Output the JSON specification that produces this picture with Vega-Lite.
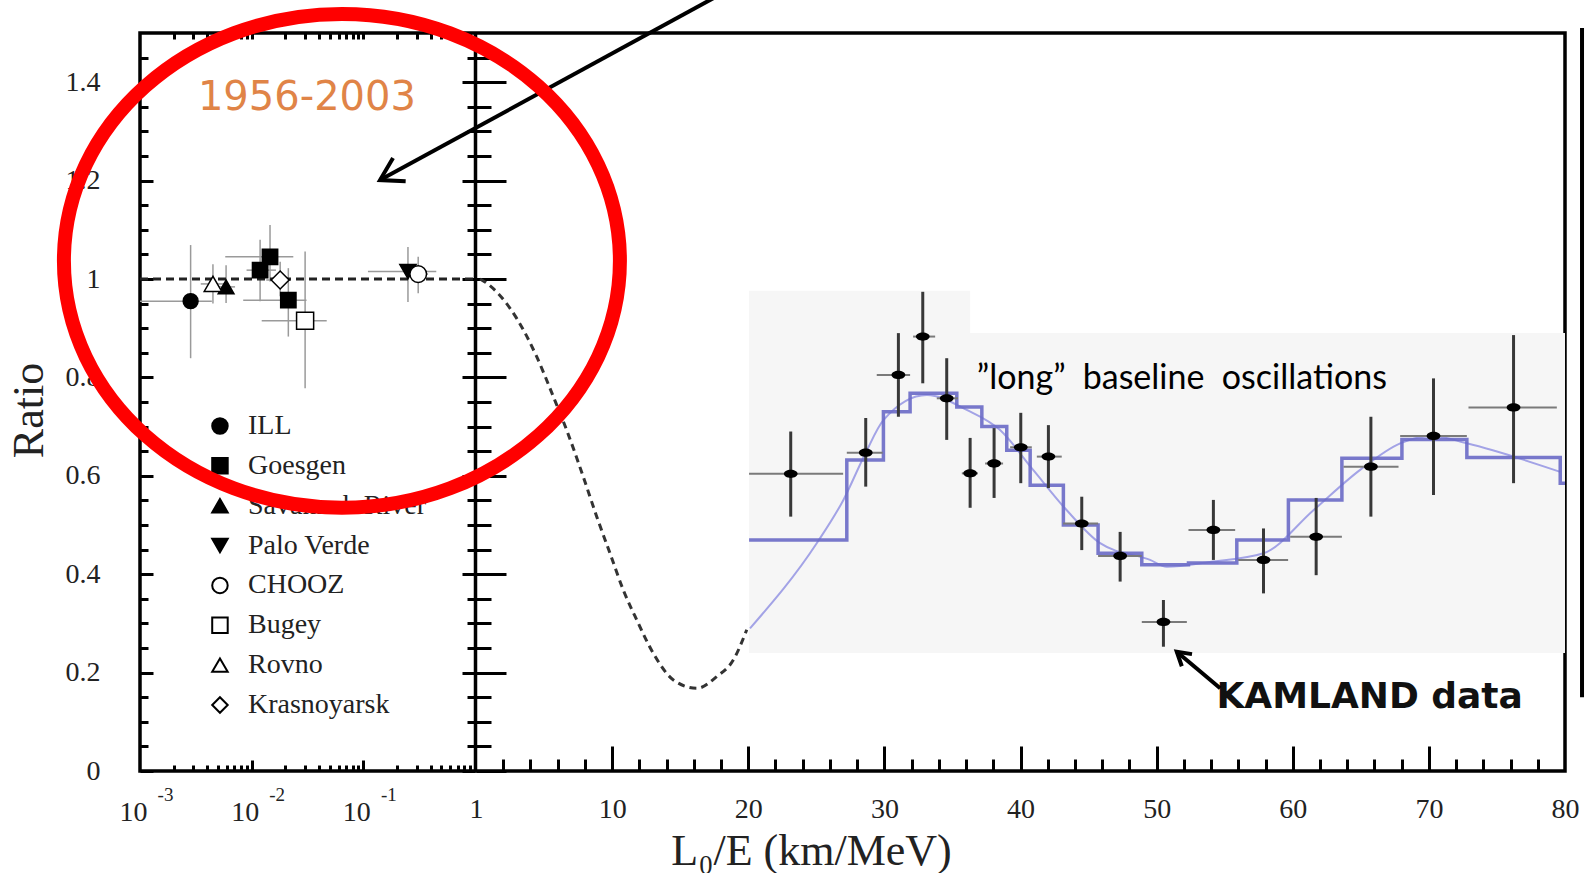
{
  "$schema": "https://vega.github.io/schema/vega-lite/v6.json",
  "width": 1425,
  "height": 738,
  "autosize": {"type": "none"},
  "padding": {"left": 140, "top": 33, "right": 20, "bottom": 102},
  "background": "white",
  "config": {
    "view": {"stroke": "black", "strokeWidth": 3.5},
    "axis": {
      "grid": false, "domain": false, "labelFlush": false, "labelOverlap": false, "labelBound": false,
      "tickColor": "black", "tickWidth": 3, "labelColor": "#222", "labelFont": "Liberation Serif", "labelFontSize": 28,
      "titleFont": "Liberation Serif", "titleFontWeight": "normal", "titleColor": "#222", "titleFontSize": 44
    }
  },
  "datasets": {
    "left": [
      {"exp": "ILL", "x": 0.00284, "y": 0.955, "xlo": 0.001, "xhi": 0.0044, "ylo": 0.839, "yhi": 1.069},
      {"exp": "Goesgen", "x": 0.0119, "y": 1.018, "xlo": 0.009, "xhi": 0.0165, "ylo": 0.955, "yhi": 1.08},
      {"exp": "Goesgen", "x": 0.0146, "y": 1.045, "xlo": 0.0058, "xhi": 0.0236, "ylo": 0.995, "yhi": 1.11},
      {"exp": "Goesgen", "x": 0.0213, "y": 0.957, "xlo": 0.0084, "xhi": 0.031, "ylo": 0.883, "yhi": 1.022},
      {"exp": "Savannah River", "x": 0.0059, "y": 0.984, "xlo": 0.0047, "xhi": 0.0071, "ylo": 0.951, "yhi": 1.028},
      {"exp": "Rovno", "x": 0.0045, "y": 0.99, "xlo": 0.0035, "xhi": 0.0058, "ylo": 0.95, "yhi": 1.03},
      {"exp": "Krasnoyarsk", "x": 0.018, "y": 0.998, "xlo": 0.0135, "xhi": 0.0225, "ylo": 0.965, "yhi": 1.035},
      {"exp": "Bugey", "x": 0.0301, "y": 0.915, "xlo": 0.0123, "xhi": 0.047, "ylo": 0.778, "yhi": 1.056},
      {"exp": "Palo Verde", "x": 0.251, "y": 1.015, "xlo": 0.11, "xhi": 0.45, "ylo": 0.953, "yhi": 1.065},
      {"exp": "CHOOZ", "x": 0.31, "y": 1.01, "xlo": 0.25, "xhi": 0.38, "ylo": 0.971, "yhi": 1.045}
    ],
    "legend": [
      {"exp": "ILL"}, {"exp": "Goesgen"}, {"exp": "Savannah River"}, {"exp": "Palo Verde"},
      {"exp": "CHOOZ"}, {"exp": "Bugey"}, {"exp": "Rovno"}, {"exp": "Krasnoyarsk"}
    ],
    "unity": [{"x": 0.001, "y": 1}, {"x": 1, "y": 1}],
    "era": [{"label": "1956-2003", "x": 0.0033, "y": 1.3435}],
    "bg": [
      {"x": 20.06, "x2": 80, "y": 0.24, "y2": 0.89},
      {"x": 20.06, "x2": 36.3, "y": 0.889, "y2": 0.976}
    ],
    "dashed": [
      {"x": 0.3, "y": 1.0}, {"x": 0.66, "y": 0.994}, {"x": 2.99, "y": 0.92}, {"x": 4.46, "y": 0.842},
      {"x": 5.68, "y": 0.761}, {"x": 6.66, "y": 0.693}, {"x": 7.88, "y": 0.598}, {"x": 8.87, "y": 0.517},
      {"x": 9.85, "y": 0.442}, {"x": 10.82, "y": 0.368}, {"x": 11.81, "y": 0.307}, {"x": 13.03, "y": 0.239},
      {"x": 14.5, "y": 0.185}, {"x": 16.22, "y": 0.168}, {"x": 17.69, "y": 0.192}, {"x": 18.91, "y": 0.226},
      {"x": 19.89, "y": 0.287}
    ],
    "fit": [
      {"x": 20.13, "y": 0.29}, {"x": 25.03, "y": 0.463}, {"x": 26.99, "y": 0.551}, {"x": 28.63, "y": 0.647},
      {"x": 29.93, "y": 0.713}, {"x": 33.12, "y": 0.764}, {"x": 36.05, "y": 0.734}, {"x": 38.5, "y": 0.693},
      {"x": 40.93, "y": 0.612}, {"x": 43.4, "y": 0.53}, {"x": 45.85, "y": 0.463}, {"x": 49.52, "y": 0.429},
      {"x": 50.75, "y": 0.415}, {"x": 53.93, "y": 0.425}, {"x": 57.85, "y": 0.4425}, {"x": 61.52, "y": 0.53},
      {"x": 64.95, "y": 0.612}, {"x": 67.89, "y": 0.666}, {"x": 70.31, "y": 0.681}, {"x": 72.79, "y": 0.666},
      {"x": 79.65, "y": 0.608}
    ],
    "steps": [
      {"x": 20.06, "y": 0.4695}, {"x": 27.24, "y": 0.632}, {"x": 29.93, "y": 0.73}, {"x": 31.89, "y": 0.768},
      {"x": 35.32, "y": 0.74}, {"x": 37.16, "y": 0.7}, {"x": 38.99, "y": 0.652}, {"x": 40.71, "y": 0.581},
      {"x": 43.15, "y": 0.5}, {"x": 45.7, "y": 0.4425}, {"x": 48.91, "y": 0.419}, {"x": 52.34, "y": 0.423},
      {"x": 55.89, "y": 0.4695}, {"x": 59.68, "y": 0.551}, {"x": 63.61, "y": 0.6355}, {"x": 68.02, "y": 0.674},
      {"x": 72.79, "y": 0.637}, {"x": 79.65, "y": 0.585}, {"x": 80, "y": 0.585}
    ],
    "kam": [
      {"x": 23.12, "y": 0.604, "xlo": 20.06, "xhi": 26.97, "ylo": 0.517, "yhi": 0.69},
      {"x": 28.63, "y": 0.647, "xlo": 27.24, "xhi": 29.88, "ylo": 0.578, "yhi": 0.7175},
      {"x": 31.03, "y": 0.805, "xlo": 29.44, "xhi": 31.89, "ylo": 0.72, "yhi": 0.89},
      {"x": 32.82, "y": 0.883, "xlo": 32.11, "xhi": 33.73, "ylo": 0.788, "yhi": 0.974},
      {"x": 34.58, "y": 0.7575, "xlo": 33.85, "xhi": 35.41, "ylo": 0.673, "yhi": 0.839},
      {"x": 36.3, "y": 0.605, "xlo": 35.69, "xhi": 36.88, "ylo": 0.535, "yhi": 0.677},
      {"x": 38.06, "y": 0.625, "xlo": 37.4, "xhi": 38.72, "ylo": 0.555, "yhi": 0.697},
      {"x": 40.02, "y": 0.658, "xlo": 39.24, "xhi": 40.83, "ylo": 0.585, "yhi": 0.728},
      {"x": 42.05, "y": 0.639, "xlo": 41.2, "xhi": 43.03, "ylo": 0.575, "yhi": 0.703},
      {"x": 44.5, "y": 0.503, "xlo": 43.13, "xhi": 45.7, "ylo": 0.449, "yhi": 0.5575},
      {"x": 47.32, "y": 0.437, "xlo": 45.7, "xhi": 48.91, "ylo": 0.385, "yhi": 0.486},
      {"x": 50.5, "y": 0.303, "xlo": 48.91, "xhi": 52.22, "ylo": 0.2526, "yhi": 0.3476},
      {"x": 54.17, "y": 0.49, "xlo": 52.34, "xhi": 55.77, "ylo": 0.429, "yhi": 0.551},
      {"x": 57.85, "y": 0.429, "xlo": 55.99, "xhi": 59.66, "ylo": 0.361, "yhi": 0.493},
      {"x": 61.72, "y": 0.476, "xlo": 59.81, "xhi": 63.61, "ylo": 0.398, "yhi": 0.555},
      {"x": 65.74, "y": 0.6185, "xlo": 63.73, "xhi": 67.77, "ylo": 0.517, "yhi": 0.72},
      {"x": 70.34, "y": 0.681, "xlo": 67.89, "xhi": 72.79, "ylo": 0.561, "yhi": 0.798},
      {"x": 76.22, "y": 0.739, "xlo": 72.91, "xhi": 79.4, "ylo": 0.585, "yhi": 0.886}
    ],
    "note": [{"label": "”long” \u00a0baseline \u00a0oscillations", "x": 36.79, "y": 0.7764}],
    "kamlabel": [{"label": "KAMLAND data", "x": 54.39, "y": 0.128}],
    "arrows": [
      {"x": 17.85, "y": 1.577, "x2": -7.05, "y2": 1.201},
      {"x": 54.67, "y": 0.168, "x2": 51.48, "y2": 0.2425}
    ],
    "tipBig": [{"x": -7.05, "y": 1.201}],
    "tipSmall": [{"x": 51.48, "y": 0.2425}],
    "ring": [{"x": -9.85, "y": 1.037}],
    "edge": [{"x": 81.25, "y": 0.15, "y2": 1.51}]
  },
  "layer": [
    {
      "layer": [
        {
          "data": {"name": "left"},
          "mark": {"type": "rule", "color": "#9a9a9a", "strokeWidth": 1.5},
          "encoding": {
            "x": {"field": "xlo", "type": "quantitative", "scale": {"type": "log", "domain": [0.001, 1], "range": [0, 335]},
              "axis": {"orient": "bottom", "values": [0.001, 0.01, 0.1], "labelExpr": "'10'", "ticks": false, "labels": true, "labelPadding": 27, "labelOffset": -7, "title": null}},
            "x2": {"field": "xhi"},
            "y": {"field": "y", "type": "quantitative", "scale": {"domain": [0, 1.5], "nice": false, "zero": false},
              "axis": {"orient": "left", "values": [0, 0.2, 0.4, 0.6, 0.8, 1, 1.2, 1.4], "format": "~g", "ticks": false, "labels": true, "labelPadding": 40,
                "title": "Ratio", "titleX": -98, "titleY": 377, "titleAngle": -90, "titleAlign": "center", "titleBaseline": "alphabetic"}}
          }
        },
        {
          "data": {"name": "left"},
          "mark": {"type": "rule", "color": "#9a9a9a", "strokeWidth": 1.5},
          "encoding": {
            "x": {"field": "x", "type": "quantitative", "scale": {"type": "log", "domain": [0.001, 1], "range": [0, 335]},
              "axis": {"orient": "bottom", "values": [0.001, 0.01, 0.1], "labelExpr": "datum.value < 0.005 ? '-3' : (datum.value < 0.05 ? '-2' : '-1')", "ticks": false, "labels": true, "labelFontSize": 19, "labelPadding": 14, "labelOffset": 25, "title": null}},
            "y": {"field": "ylo", "type": "quantitative", "scale": {"domain": [0, 1.5], "nice": false, "zero": false},
              "axis": {"orient": "left", "values": [0, 0.2, 0.4, 0.6, 0.8, 1, 1.2, 1.4], "labels": false, "tickSize": -13, "title": null}},
            "y2": {"field": "yhi"}
          }
        },
        {
          "data": {"name": "unity"},
          "mark": {"type": "line", "color": "#222", "strokeWidth": 2.8, "strokeDash": [8, 5]},
          "encoding": {
            "x": {"field": "x", "type": "quantitative", "scale": {"type": "log", "domain": [0.001, 1], "range": [0, 335]},
              "axis": {"orient": "bottom", "values": [0.01, 0.1], "labels": false, "tickSize": -11, "title": null}},
            "y": {"field": "y", "type": "quantitative", "scale": {"domain": [0, 1.5], "nice": false, "zero": false},
              "axis": {"orient": "left", "values": [0.05, 0.1, 0.15, 0.25, 0.3, 0.35, 0.45, 0.5, 0.55, 0.65, 0.7, 0.75, 0.85, 0.9, 0.95, 1.05, 1.1, 1.15, 1.25, 1.3, 1.35, 1.45], "labels": false, "tickSize": -8, "title": null}}
          }
        },
        {
          "data": {"name": "left"},
          "mark": {"type": "point", "stroke": "black", "strokeWidth": 1.5, "opacity": 1},
          "encoding": {
            "x": {"field": "x", "type": "quantitative", "scale": {"type": "log", "domain": [0.001, 1], "range": [0, 335]},
              "axis": {"orient": "bottom", "values": [0.002, 0.003, 0.004, 0.005, 0.006, 0.007, 0.008, 0.009, 0.02, 0.03, 0.04, 0.05, 0.06, 0.07, 0.08, 0.09, 0.2, 0.3, 0.4, 0.5, 0.6, 0.7, 0.8, 0.9], "labels": false, "tickSize": -6, "title": null}},
            "y": {"field": "y", "type": "quantitative", "scale": {"domain": [0, 1.5], "nice": false, "zero": false},
              "axis": {"orient": "left", "offset": -335, "values": [0, 0.2, 0.4, 0.6, 0.8, 1, 1.2, 1.4], "labels": false, "tickSize": 13, "domain": true, "domainColor": "black", "domainWidth": 3.5, "title": null}},
            "shape": {"field": "exp", "type": "nominal",
              "scale": {"domain": ["ILL", "Goesgen", "Savannah River", "Palo Verde", "CHOOZ", "Bugey", "Rovno", "Krasnoyarsk"],
                "range": ["circle", "square", "triangle-up", "triangle-down", "circle", "square", "triangle-up", "diamond"]},
              "legend": null},
            "fill": {"field": "exp", "type": "nominal",
              "scale": {"domain": ["ILL", "Goesgen", "Savannah River", "Palo Verde", "CHOOZ", "Bugey", "Rovno", "Krasnoyarsk"],
                "range": ["black", "black", "black", "black", "white", "white", "white", "white"]},
              "legend": null},
            "size": {"field": "exp", "type": "ordinal",
              "scale": {"domain": ["ILL", "Goesgen", "Savannah River", "Palo Verde", "CHOOZ", "Bugey", "Rovno", "Krasnoyarsk"],
                "range": [220, 320, 190, 160, 120, 150, 150, 80]},
              "legend": null}
          }
        },
        {
          "data": {"name": "era"},
          "mark": {"type": "text", "font": "DejaVu Sans", "fontSize": 40, "color": "#E08447", "align": "left", "baseline": "alphabetic"},
          "encoding": {
            "x": {"field": "x", "type": "quantitative", "scale": {"type": "log", "domain": [0.001, 1], "range": [0, 335]},
              "axis": {"orient": "top", "values": [0.002, 0.003, 0.004, 0.005, 0.006, 0.007, 0.008, 0.009, 0.01, 0.02, 0.03, 0.04, 0.05, 0.06, 0.07, 0.08, 0.09, 0.1, 0.2, 0.3, 0.4, 0.5, 0.6, 0.7, 0.8, 0.9], "labels": false, "tickSize": -6, "title": null}},
            "y": {"field": "y", "type": "quantitative", "scale": {"domain": [0, 1.5], "nice": false, "zero": false},
              "axis": {"orient": "left", "offset": -335, "values": [0.05, 0.1, 0.15, 0.25, 0.3, 0.35, 0.45, 0.5, 0.55, 0.65, 0.7, 0.75, 0.85, 0.9, 0.95, 1.05, 1.1, 1.15, 1.25, 1.3, 1.35, 1.45], "labels": false, "tickSize": 8, "title": null}},
            "text": {"field": "label"}
          }
        }
      ],
      "resolve": {"axis": {"x": "independent", "y": "independent"}}
    },
    {
      "layer": [
        {
          "data": {"name": "legend"},
          "mark": {"type": "point", "stroke": "black", "strokeWidth": 2, "size": 240, "opacity": 1},
          "encoding": {
            "x": {"datum": 0.0052, "type": "quantitative", "scale": {"type": "log", "domain": [0.001, 1], "range": [0, 335]}, "axis": null},
            "y": {"field": "exp", "type": "ordinal", "sort": null,
              "scale": {"type": "point", "domain": ["ILL", "Goesgen", "Savannah River", "Palo Verde", "CHOOZ", "Bugey", "Rovno", "Krasnoyarsk"], "range": [393, 672], "padding": 0},
              "axis": null},
            "shape": {"field": "exp", "type": "nominal",
              "scale": {"domain": ["ILL", "Goesgen", "Savannah River", "Palo Verde", "CHOOZ", "Bugey", "Rovno", "Krasnoyarsk"],
                "range": ["circle", "square", "triangle-up", "triangle-down", "circle", "square", "triangle-up", "diamond"]},
              "legend": null},
            "fill": {"field": "exp", "type": "nominal",
              "scale": {"domain": ["ILL", "Goesgen", "Savannah River", "Palo Verde", "CHOOZ", "Bugey", "Rovno", "Krasnoyarsk"],
                "range": ["black", "black", "black", "black", "white", "white", "white", "white"]},
              "legend": null}
          }
        },
        {
          "data": {"name": "legend"},
          "mark": {"type": "text", "font": "Liberation Serif", "fontSize": 28, "color": "#222", "align": "left", "baseline": "middle"},
          "encoding": {
            "x": {"datum": 0.00927, "type": "quantitative", "scale": {"type": "log", "domain": [0.001, 1], "range": [0, 335]}, "axis": null},
            "y": {"field": "exp", "type": "ordinal", "sort": null,
              "scale": {"type": "point", "domain": ["ILL", "Goesgen", "Savannah River", "Palo Verde", "CHOOZ", "Bugey", "Rovno", "Krasnoyarsk"], "range": [393, 672], "padding": 0},
              "axis": null},
            "text": {"field": "exp"}
          }
        }
      ]
    },
    {
      "layer": [
        {
          "data": {"name": "bg"},
          "mark": {"type": "rect", "color": "#f6f6f6"},
          "encoding": {
            "x": {"field": "x", "type": "quantitative", "scale": {"domain": [0, 80], "range": [336, 1425]},
              "axis": {"orient": "bottom", "values": [0, 10, 20, 30, 40, 50, 60, 70, 80], "labelExpr": "datum.value == 0 ? '1' : datum.label", "ticks": false, "labels": true, "labelPadding": 24,
                "title": "L₀/E (km/MeV)", "titleX": 671, "titleY": 93, "titleAlign": "center", "titleBaseline": "alphabetic"}},
            "x2": {"field": "x2"},
            "y": {"field": "y", "type": "quantitative", "scale": {"domain": [0, 1.5], "nice": false, "zero": false},
              "axis": {"orient": "left", "offset": -336, "values": [0, 0.2, 0.4, 0.6, 0.8, 1, 1.2, 1.4], "labels": false, "tickSize": -30, "title": null}},
            "y2": {"field": "y2"}
          }
        },
        {
          "data": {"name": "dashed"},
          "mark": {"type": "line", "color": "#333", "strokeWidth": 3, "strokeDash": [7, 5], "interpolate": "monotone"},
          "encoding": {
            "x": {"field": "x", "type": "quantitative", "scale": {"domain": [0, 80], "range": [336, 1425]},
              "axis": {"orient": "bottom", "values": [10, 20, 30, 40, 50, 60, 70], "labels": false, "tickSize": -25, "title": null}},
            "y": {"field": "y", "type": "quantitative", "scale": {"domain": [0, 1.5], "nice": false, "zero": false},
              "axis": {"orient": "left", "offset": -336, "values": [0.05, 0.1, 0.15, 0.25, 0.3, 0.35, 0.45, 0.5, 0.55, 0.65, 0.7, 0.75, 0.85, 0.9, 0.95, 1.05, 1.1, 1.15, 1.25, 1.3, 1.35, 1.45], "labels": false, "tickSize": -15, "title": null}}
          }
        },
        {
          "data": {"name": "fit"},
          "mark": {"type": "line", "color": "#a3a3e6", "strokeWidth": 2, "interpolate": "monotone"},
          "encoding": {
            "x": {"field": "x", "type": "quantitative", "scale": {"domain": [0, 80], "range": [336, 1425]},
              "axis": {"orient": "bottom", "values": [2, 4, 6, 8, 12, 14, 16, 18, 22, 24, 26, 28, 32, 34, 36, 38, 42, 44, 46, 48, 52, 54, 56, 58, 62, 64, 66, 68, 72, 74, 76, 78], "labels": false, "tickSize": -12, "title": null}},
            "y": {"field": "y", "type": "quantitative", "scale": {"domain": [0, 1.5], "nice": false, "zero": false}, "axis": null}
          }
        },
        {
          "data": {"name": "steps"},
          "mark": {"type": "line", "color": "#6a6ac6", "strokeWidth": 3.5, "opacity": 0.9, "interpolate": "step-after"},
          "encoding": {
            "x": {"field": "x", "type": "quantitative", "scale": {"domain": [0, 80], "range": [336, 1425]}, "axis": null},
            "y": {"field": "y", "type": "quantitative", "scale": {"domain": [0, 1.5], "nice": false, "zero": false}, "axis": null}
          }
        },
        {
          "data": {"name": "kam"},
          "mark": {"type": "rule", "color": "#7a7a7a", "strokeWidth": 2},
          "encoding": {
            "x": {"field": "xlo", "type": "quantitative", "scale": {"domain": [0, 80], "range": [336, 1425]}, "axis": null},
            "x2": {"field": "xhi"},
            "y": {"field": "y", "type": "quantitative", "scale": {"domain": [0, 1.5], "nice": false, "zero": false}, "axis": null}
          }
        },
        {
          "data": {"name": "kam"},
          "mark": {"type": "rule", "color": "#383838", "strokeWidth": 3},
          "encoding": {
            "x": {"field": "x", "type": "quantitative", "scale": {"domain": [0, 80], "range": [336, 1425]}, "axis": null},
            "y": {"field": "ylo", "type": "quantitative", "scale": {"domain": [0, 1.5], "nice": false, "zero": false}, "axis": null},
            "y2": {"field": "yhi"}
          }
        },
        {
          "data": {"name": "kam"},
          "mark": {"type": "point", "shape": "M -1 0 C -1 -0.33 -0.55 -0.6 0 -0.6 C 0.55 -0.6 1 -0.33 1 0 C 1 0.33 0.55 0.6 0 0.6 C -0.55 0.6 -1 0.33 -1 0 Z", "size": 190, "filled": true, "fill": "black", "strokeWidth": 0, "opacity": 1},
          "encoding": {
            "x": {"field": "x", "type": "quantitative", "scale": {"domain": [0, 80], "range": [336, 1425]}, "axis": null},
            "y": {"field": "y", "type": "quantitative", "scale": {"domain": [0, 1.5], "nice": false, "zero": false}, "axis": null}
          }
        },
        {
          "data": {"name": "note"},
          "mark": {"type": "text", "font": "Lato", "fontSize": 34, "color": "black", "align": "left", "baseline": "alphabetic"},
          "encoding": {
            "x": {"field": "x", "type": "quantitative", "scale": {"domain": [0, 80], "range": [336, 1425]}, "axis": null},
            "y": {"field": "y", "type": "quantitative", "scale": {"domain": [0, 1.5], "nice": false, "zero": false}, "axis": null},
            "text": {"field": "label"}
          }
        },
        {
          "data": {"name": "kamlabel"},
          "mark": {"type": "text", "font": "DejaVu Sans", "fontWeight": "bold", "fontSize": 36, "color": "#111", "align": "left", "baseline": "alphabetic"},
          "encoding": {
            "x": {"field": "x", "type": "quantitative", "scale": {"domain": [0, 80], "range": [336, 1425]}, "axis": null},
            "y": {"field": "y", "type": "quantitative", "scale": {"domain": [0, 1.5], "nice": false, "zero": false}, "axis": null},
            "text": {"field": "label"}
          }
        },
        {
          "data": {"name": "arrows"},
          "mark": {"type": "rule", "color": "black", "strokeWidth": 4},
          "encoding": {
            "x": {"field": "x", "type": "quantitative", "scale": {"domain": [0, 80], "range": [336, 1425]}, "axis": null},
            "x2": {"field": "x2"},
            "y": {"field": "y", "type": "quantitative", "scale": {"domain": [0, 1.5], "nice": false, "zero": false}, "axis": null},
            "y2": {"field": "y2"}
          }
        },
        {
          "data": {"name": "tipBig"},
          "mark": {"type": "point", "shape": "M -1 -0.6 L 0 0 L -1 0.6", "size": 1936, "angle": 151.4, "filled": false, "stroke": "black", "strokeWidth": 4, "opacity": 1},
          "encoding": {
            "x": {"field": "x", "type": "quantitative", "scale": {"domain": [0, 80], "range": [336, 1425]}, "axis": null},
            "y": {"field": "y", "type": "quantitative", "scale": {"domain": [0, 1.5], "nice": false, "zero": false}, "axis": null}
          }
        },
        {
          "data": {"name": "tipSmall"},
          "mark": {"type": "point", "shape": "M -1 -0.6 L 0 0 L -1 0.6", "size": 700, "angle": 220, "filled": false, "stroke": "black", "strokeWidth": 4, "opacity": 1},
          "encoding": {
            "x": {"field": "x", "type": "quantitative", "scale": {"domain": [0, 80], "range": [336, 1425]}, "axis": null},
            "y": {"field": "y", "type": "quantitative", "scale": {"domain": [0, 1.5], "nice": false, "zero": false}, "axis": null}
          }
        },
        {
          "data": {"name": "ring"},
          "mark": {"type": "point", "shape": "M -1 0 C -1 -0.4905 -0.5523 -0.888 0 -0.888 C 0.5523 -0.888 1 -0.4905 1 0 C 1 0.4905 0.5523 0.888 0 0.888 C -0.5523 0.888 -1 0.4905 -1 0 Z", "size": 309136, "filled": false, "stroke": "#FF0000", "strokeWidth": 14, "opacity": 1},
          "encoding": {
            "x": {"field": "x", "type": "quantitative", "scale": {"domain": [0, 80], "range": [336, 1425]}, "axis": null},
            "y": {"field": "y", "type": "quantitative", "scale": {"domain": [0, 1.5], "nice": false, "zero": false}, "axis": null}
          }
        },
        {
          "data": {"name": "edge"},
          "mark": {"type": "rule", "color": "black", "strokeWidth": 4},
          "encoding": {
            "x": {"field": "x", "type": "quantitative", "scale": {"domain": [0, 80], "range": [336, 1425]}, "axis": null},
            "y": {"field": "y", "type": "quantitative", "scale": {"domain": [0, 1.5], "nice": false, "zero": false}, "axis": null},
            "y2": {"field": "y2"}
          }
        }
      ],
      "resolve": {"axis": {"x": "independent", "y": "independent"}}
    }
  ],
  "resolve": {"scale": {"x": "independent", "y": "independent"}, "axis": {"x": "independent", "y": "independent"}}
}
